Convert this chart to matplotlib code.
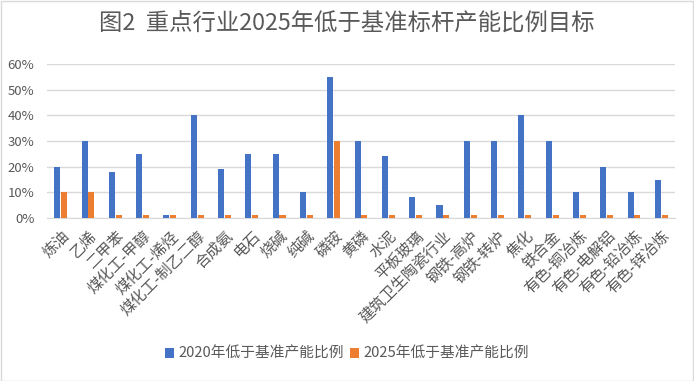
import matplotlib
matplotlib.use("Agg")
import matplotlib.pyplot as plt
import numpy as np
from matplotlib.patches import Rectangle

plt.rcParams['font.family'] = ['Noto Sans CJK SC', 'DejaVu Sans']

categories = ["炼油", "乙烯", "二甲苯", "煤化工-甲醇", "煤化工-烯烃", "煤化工-制乙二醇", "合成氨",
              "电石", "烧碱", "纯碱", "磷铵", "黄磷", "水泥", "平板玻璃", "建筑卫生陶瓷行业",
              "钢铁-高炉", "钢铁-转炉", "焦化", "铁合金", "有色-铜冶炼", "有色-电解铝",
              "有色-铅冶炼", "有色-锌冶炼"]
v2020 = [20, 30, 18, 25, 1, 40, 19, 25, 25, 10, 55, 30, 24, 8, 5, 30, 30, 40, 30, 10, 20, 10, 15]
v2025 = [10, 10, 1, 1, 1, 1, 1, 1, 1, 1, 30, 1, 1, 1, 1, 1, 1, 1, 1, 1, 1, 1, 1]
series_names = ["2020年低于基准产能比例", "2025年低于基准产能比例"]
yticks = [0, 10, 20, 30, 40, 50, 60]
title = "图2  重点行业2025年低于基准标杆产能比例目标"

blue = "#4472C4"
orange = "#ED7D31"
gray = "#595959"

fig = plt.figure(figsize=(6.94, 3.81), dpi=100)
ax = fig.add_axes([47/694, 1-218/381, 628/694, 154/381])

x = np.arange(len(categories))
w = 0.22
ax.bar(x - 0.125, v2020, width=w, color=blue, label=series_names[0], zorder=3)
ax.bar(x + 0.125, v2025, width=w, color=orange, label=series_names[1], zorder=3)

ax.set_xlim(-0.5, len(categories) - 0.5)
ax.set_ylim(0, 60)
ax.set_yticks(yticks)
ax.set_yticklabels([f"{t}%" for t in yticks], color=gray, fontsize=9.5)
ax.yaxis.grid(True, color="#D9D9D9", linewidth=1, zorder=0)
ax.set_xticks(x)
ax.set_xticklabels(categories, rotation=45, ha="right", rotation_mode="anchor",
                   color=gray, fontsize=11)
ax.tick_params(axis="both", length=0)
ax.tick_params(axis="x", pad=7)
ax.tick_params(axis="y", pad=9)
for s in ["top", "right", "left"]:
    ax.spines[s].set_visible(False)
ax.spines["bottom"].set_color("#D9D9D9")

fig.text(0.5, 1-24/381, title, ha="center", va="center", fontsize=16.8, color=gray)

leg = fig.legend(loc="center", bbox_to_anchor=(0.5, 1-354/381), ncol=2, frameon=False,
                 fontsize=10.6, handlelength=0.6, handleheight=0.6, columnspacing=0.4,
                 handletextpad=0.3)
for t in leg.get_texts():
    t.set_color(gray)

fig.patches.append(Rectangle((0.5/694, 0.5/381), 1-1.5/694, 1-1.5/381, transform=fig.transFigure,
                             fill=False, edgecolor="#D9D9D9", linewidth=1))

fig.savefig("out.png", dpi=100)
